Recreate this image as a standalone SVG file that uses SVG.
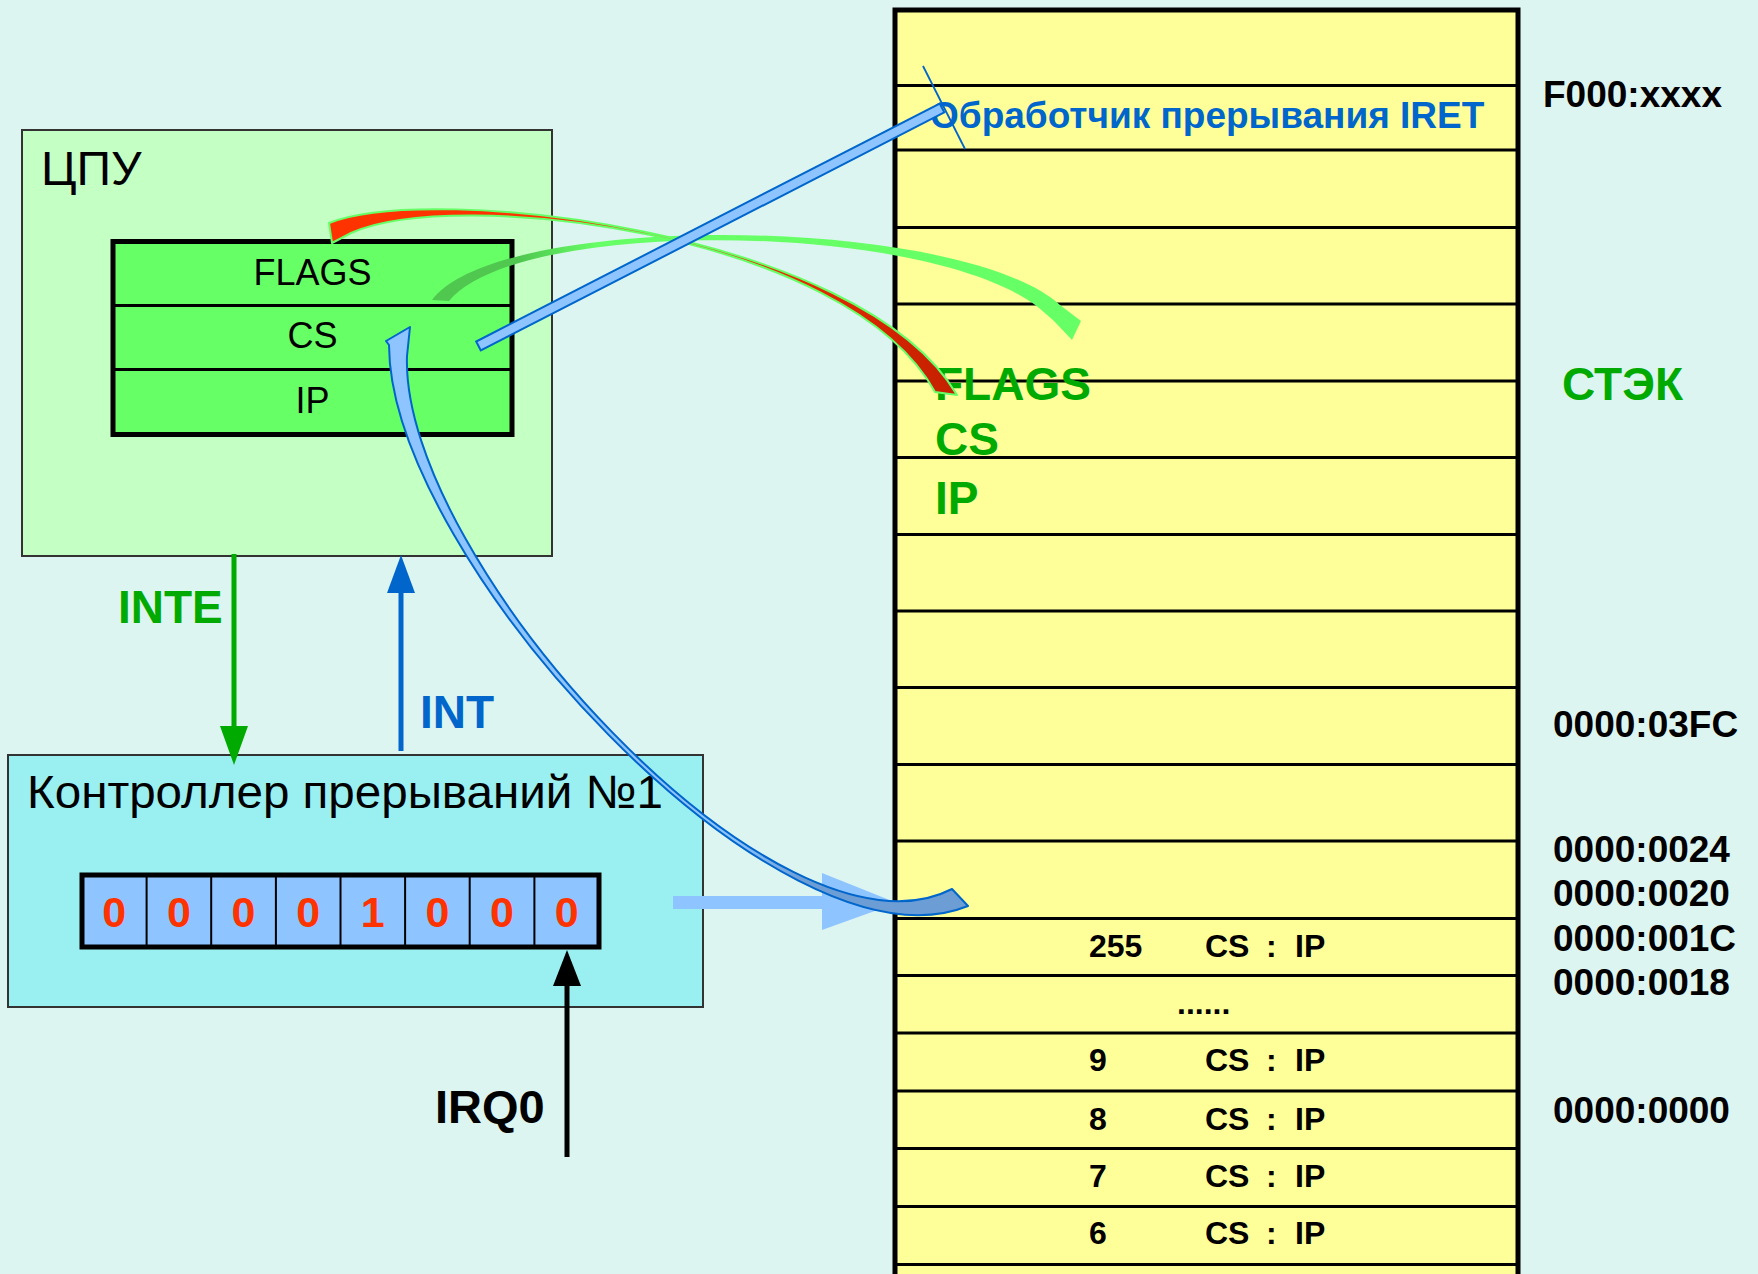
<svg xmlns="http://www.w3.org/2000/svg" width="1758" height="1274" viewBox="0 0 1758 1274">
<defs>
<style>
.t{font-family:"Liberation Sans",Arial,sans-serif}
.b{font-weight:bold}
.mem{fill:#FFFF99;stroke:#000;stroke-width:5}
.ml{stroke:#000;stroke-width:3}
.addr{font-family:"Liberation Sans",Arial,sans-serif;font-weight:bold;font-size:37px;fill:#000}
.row{font-family:"Liberation Sans",Arial,sans-serif;font-weight:bold;font-size:32px;fill:#000}
.stk{font-family:"Liberation Sans",Arial,sans-serif;font-weight:bold;font-size:46px;fill:#00AA00}
.reg{font-family:"Liberation Sans",Arial,sans-serif;font-size:36px;fill:#000;text-anchor:middle}
.bit{font-family:"Liberation Sans",Arial,sans-serif;font-weight:bold;font-size:43px;fill:#FF3300;text-anchor:middle}
</style>
<linearGradient id="gRed" gradientUnits="userSpaceOnUse" x1="330" y1="0" x2="957" y2="0">
<stop offset="0" stop-color="#FF3300"/><stop offset="0.55" stop-color="#FF3300"/><stop offset="1" stop-color="#C42000"/>
</linearGradient>
<linearGradient id="gGreen" gradientUnits="userSpaceOnUse" x1="430" y1="0" x2="1080" y2="0">
<stop offset="0" stop-color="#50C850"/><stop offset="0.14" stop-color="#50C850"/><stop offset="0.26" stop-color="#66FF66"/><stop offset="1" stop-color="#66FF66"/>
</linearGradient>
<linearGradient id="gBlue" gradientUnits="userSpaceOnUse" x1="380" y1="0" x2="970" y2="0">
<stop offset="0" stop-color="#8EC4FF"/><stop offset="0.6" stop-color="#8EC4FF"/><stop offset="0.72" stop-color="#6C9DD4"/><stop offset="1" stop-color="#6C9DD4"/>
</linearGradient>
</defs>
<rect x="0" y="0" width="1758" height="1274" fill="#DDF5F0"/>

<g id="cpu">
<rect x="22" y="130" width="530" height="426" fill="#C4FFC4" stroke="#333" stroke-width="2"/>
<text class="t" x="41" y="185" font-size="48">ЦПУ</text>
</g>

<g id="registers">
<rect x="113" y="241.5" width="399" height="193" fill="#66FF66" stroke="#000" stroke-width="5"/>
<line x1="113" y1="305.5" x2="512" y2="305.5" stroke="#000" stroke-width="3"/>
<line x1="113" y1="369.5" x2="512" y2="369.5" stroke="#000" stroke-width="3"/>
<text class="reg" x="312.5" y="285">FLAGS</text>
<text class="reg" x="312.5" y="348">CS</text>
<text class="reg" x="312.5" y="413">IP</text>
</g>

<g id="controller">
<rect x="8" y="755" width="695" height="252" fill="#9AF0F0" stroke="#333" stroke-width="2"/>
<text class="t" x="27" y="808" font-size="47" textLength="636" lengthAdjust="spacingAndGlyphs">Контроллер прерываний №1</text>
</g>

<g id="irr">
<rect x="82" y="875" width="517" height="72" fill="#8EC4FF" stroke="#000" stroke-width="5"/>
<g stroke="#000" stroke-width="2">
<line x1="146.6" y1="875" x2="146.6" y2="947"/>
<line x1="211.2" y1="875" x2="211.2" y2="947"/>
<line x1="275.9" y1="875" x2="275.9" y2="947"/>
<line x1="340.5" y1="875" x2="340.5" y2="947"/>
<line x1="405.1" y1="875" x2="405.1" y2="947"/>
<line x1="469.7" y1="875" x2="469.7" y2="947"/>
<line x1="534.4" y1="875" x2="534.4" y2="947"/>
</g>
<text class="bit" x="114.3" y="927">0</text>
<text class="bit" x="178.9" y="927">0</text>
<text class="bit" x="243.5" y="927">0</text>
<text class="bit" x="308.2" y="927">0</text>
<text class="bit" x="372.8" y="927">1</text>
<text class="bit" x="437.4" y="927">0</text>
<text class="bit" x="502" y="927">0</text>
<text class="bit" x="566.7" y="927">0</text>
</g>

<g id="memory">
<rect class="mem" x="895" y="10" width="623" height="1290"/>
<g class="ml">
<line x1="895" y1="85.5" x2="1518" y2="85.5"/>
<line x1="895" y1="150" x2="1518" y2="150"/>
<line x1="895" y1="227.5" x2="1518" y2="227.5"/>
<line x1="895" y1="304" x2="1518" y2="304"/>
<line x1="895" y1="381" x2="1518" y2="381"/>
<line x1="895" y1="457.5" x2="1518" y2="457.5"/>
<line x1="895" y1="534.5" x2="1518" y2="534.5"/>
<line x1="895" y1="611" x2="1518" y2="611"/>
<line x1="895" y1="687.5" x2="1518" y2="687.5"/>
<line x1="895" y1="764.5" x2="1518" y2="764.5"/>
<line x1="895" y1="841" x2="1518" y2="841"/>
<line x1="895" y1="918.5" x2="1518" y2="918.5"/>
<line x1="895" y1="975.5" x2="1518" y2="975.5"/>
<line x1="895" y1="1033" x2="1518" y2="1033"/>
<line x1="895" y1="1091" x2="1518" y2="1091"/>
<line x1="895" y1="1148.5" x2="1518" y2="1148.5"/>
<line x1="895" y1="1206.5" x2="1518" y2="1206.5"/>
<line x1="895" y1="1264.5" x2="1518" y2="1264.5"/>
</g>
<text class="t b" x="930" y="128" font-size="37" fill="#0066CC">Обработчик прерывания IRET</text>
<text class="stk" x="935" y="400">FLAGS</text>
<text class="stk" x="935" y="455">CS</text>
<text class="stk" x="935" y="514">IP</text>
<text class="row" x="1089" y="956.5">255</text>
<text class="row" x="1205" y="956.5">CS</text>
<text class="row" x="1266" y="956.5">:</text>
<text class="row" x="1295" y="956.5">IP</text>
<text class="row" x="1177" y="1014">......</text>
<text class="row" x="1089" y="1071">9</text>
<text class="row" x="1205" y="1071">CS</text>
<text class="row" x="1266" y="1071">:</text>
<text class="row" x="1295" y="1071">IP</text>
<text class="row" x="1089" y="1129.5">8</text>
<text class="row" x="1205" y="1129.5">CS</text>
<text class="row" x="1266" y="1129.5">:</text>
<text class="row" x="1295" y="1129.5">IP</text>
<text class="row" x="1089" y="1187">7</text>
<text class="row" x="1205" y="1187">CS</text>
<text class="row" x="1266" y="1187">:</text>
<text class="row" x="1295" y="1187">IP</text>
<text class="row" x="1089" y="1244">6</text>
<text class="row" x="1205" y="1244">CS</text>
<text class="row" x="1266" y="1244">:</text>
<text class="row" x="1295" y="1244">IP</text>
</g>

<g id="addresses">
<text class="addr" x="1543" y="107">F000:xxxx</text>
<text class="stk" x="1562" y="400" font-size="45">СТЭК</text>
<text class="addr" x="1553" y="737">0000:03FC</text>
<text class="addr" x="1553" y="862">0000:0024</text>
<text class="addr" x="1553" y="906">0000:0020</text>
<text class="addr" x="1553" y="951">0000:001C</text>
<text class="addr" x="1553" y="995">0000:0018</text>
<text class="addr" x="1553" y="1123">0000:0000</text>
</g>

<g id="labels">
<text class="t b" x="118" y="623" font-size="46" fill="#00AA00">INTE</text>
<text class="t b" x="420" y="728" font-size="46" fill="#0066CC">INT</text>
<text class="t b" x="435" y="1123" font-size="47" fill="#000">IRQ0</text>
</g>

<g id="connectors">
<line x1="234" y1="554" x2="234" y2="730" stroke="#00AA00" stroke-width="5"/>
<polygon points="220,726 248,726 234,765" fill="#00AA00"/>
<line x1="401" y1="751" x2="401" y2="588" stroke="#0066CC" stroke-width="5"/>
<polygon points="387,593 415,593 401,555" fill="#0066CC"/>
<line x1="567" y1="1157" x2="567" y2="982" stroke="#000" stroke-width="5"/>
<polygon points="553,986 581,986 567,950" fill="#000"/>
<polygon points="673,896 822,896 822,873 897,903 822,930 822,909 673,909" fill="#8EC4FF"/>
<path d="M432,300 C500,210 960,215 1060,305 L1081,321 L1072,340 L1054,321 L1046,314 C950,222 520,214 449,301 Z" fill="url(#gGreen)"/>
<path d="M332,243 L329,223 C430,182 860,230 957,395 L935,392 C848,232 455,186 351,233 Z" fill="url(#gRed)" stroke="#66FF66" stroke-width="2" stroke-linejoin="round"/>
<polygon points="476.2,341.5 480.8,350.4 944.3,112.4 939.7,103.5" fill="#8EC4FF" stroke="#0066CC" stroke-width="2"/>
<line x1="923" y1="66" x2="965" y2="149" stroke="#0066CC" stroke-width="1.8"/>
<path d="M952,889 L968,906 C780,982 390,560 389,345 L386,341 L410,327 L407,356 C400,560 780,978 952,889 Z" fill="url(#gBlue)" stroke="#0066CC" stroke-width="2" stroke-linejoin="round"/>
</g>
</svg>
